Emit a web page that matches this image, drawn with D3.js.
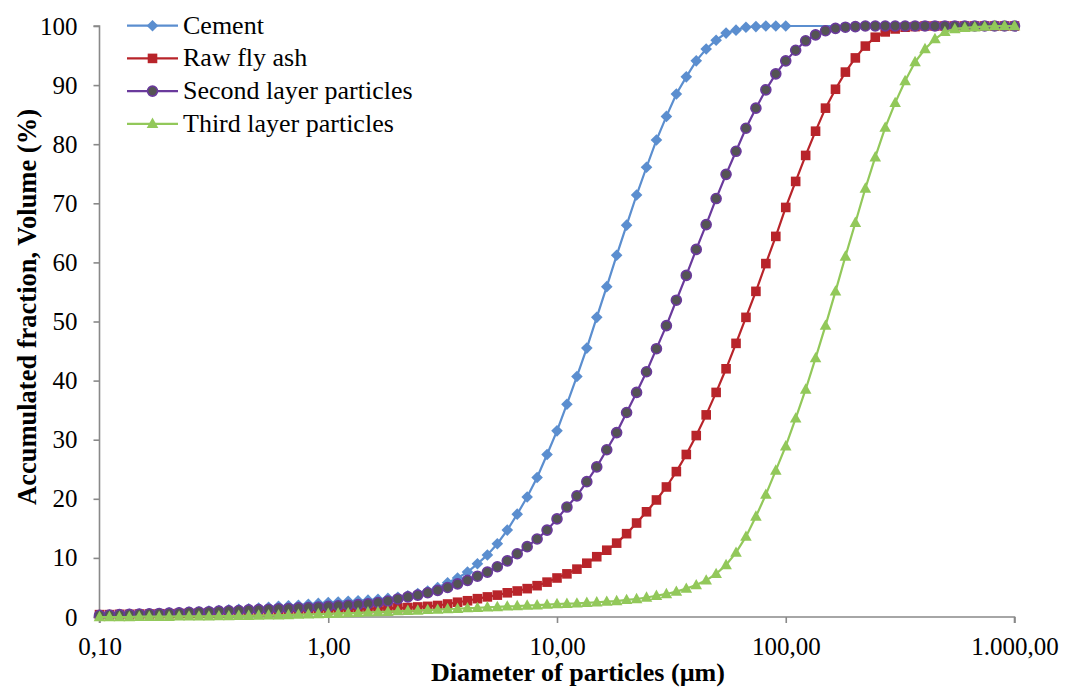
<!DOCTYPE html>
<html><head><meta charset="utf-8">
<script src="https://cdn.jsdelivr.net/npm/d3@7"></script>
<style>body{margin:0;background:#fff}svg{display:block}</style>
</head><body>
<svg id="c" width="1066" height="688"></svg>
<script>
// Particle diameters (µm), shared by all series
const sizes = [
 0.1000,0.1105,0.1222,0.1350,0.1492,0.1650,0.1823,0.2015,0.2228,0.2462,0.2721,0.3008,0.3325,0.3675,0.4062,0.4489,0.4962,0.5484,0.6062,0.6700,0.7406,0.8185,0.9047,
 1.000,1.105,1.222,1.350,1.492,1.650,1.823,2.015,2.228,2.462,2.721,3.008,3.325,3.675,4.062,4.489,4.962,5.484,6.062,6.700,7.406,8.185,9.047,
 10.00,11.05,12.22,13.50,14.92,16.50,18.23,20.15,22.28,24.62,27.21,30.08,33.25,36.75,40.62,44.89,49.62,54.84,60.62,67.00,74.06,81.85,90.47,
 100.0,110.5,122.2,135.0,149.2,165.0,182.3,201.5,222.8,246.2,272.1,300.8,332.5,367.5,406.2,448.9,496.2,548.4,606.2,670.0,740.6,818.5,904.7,
 1000.0];
const cement = [
 0.3,0.35,0.4,0.45,0.5,0.55,0.6,0.7,0.75,0.85,0.9,1.0,1.1,1.2,1.3,1.4,1.5,1.65,1.8,1.9,2.0,2.15,2.3,
 2.45,2.55,2.65,2.75,2.85,3.0,3.15,3.35,3.6,3.95,4.4,5.0,5.8,6.6,7.6,9.0,10.5,12.4,14.7,17.4,20.3,23.6,27.5,
 31.5,36.0,40.7,45.5,50.7,55.9,61.2,66.3,71.4,76.1,80.7,84.7,88.5,91.4,94.1,96.1,97.6,98.8,99.3,99.8,99.9,100,100,
 100,100,100,100,100,100,100,100,100,100,100,100,100,100,100,100,100,100,100,100,100,100,100,
 100];
const cementMarkerLimit = 100; // cement markers end at 100 µm
const rawFlyAsh = [
 0.4,0.4,0.45,0.45,0.5,0.5,0.55,0.55,0.6,0.6,0.65,0.7,0.7,0.75,0.8,0.85,0.9,0.9,0.95,1.0,1.05,1.1,1.15,
 1.2,1.25,1.3,1.35,1.4,1.45,1.5,1.55,1.6,1.7,1.8,1.95,2.2,2.5,2.75,3.1,3.4,3.7,4.1,4.4,4.8,5.3,5.9,
 6.6,7.3,8.1,9.1,10.2,11.3,12.5,14.1,15.9,17.8,19.8,22.0,24.6,27.5,30.7,34.2,38.0,42.0,46.3,50.7,55.1,59.8,64.4,
 69.3,73.7,78.1,82.2,86.1,89.3,92.2,94.6,96.6,98.1,99.0,99.5,99.8,99.9,100,100,100,100,100,100,100,100,100,
 100];
const secondLayer = [
 0.3,0.35,0.4,0.45,0.5,0.55,0.6,0.65,0.7,0.8,0.85,0.9,1.0,1.05,1.1,1.2,1.25,1.3,1.4,1.45,1.55,1.6,1.7,
 1.8,1.9,2.0,2.1,2.25,2.45,2.7,3.05,3.4,3.7,4.1,4.5,5.0,5.6,6.2,6.9,7.6,8.5,9.5,10.7,11.9,13.2,14.7,
 16.6,18.6,20.5,22.9,25.4,28.3,31.2,34.6,38.0,41.5,45.4,49.3,53.6,57.8,62.2,66.4,70.8,74.9,78.8,82.7,86.1,89.2,91.9,
 94.1,95.9,97.5,98.5,99.2,99.6,99.8,99.9,100,100,100,100,100,100,100,100,100,100,100,100,100,100,100,
 100];
const thirdLayer = [
 0.0,0.0,0.0,0.0,0.05,0.05,0.05,0.05,0.1,0.1,0.1,0.1,0.15,0.15,0.2,0.2,0.25,0.3,0.3,0.35,0.4,0.45,0.5,
 0.55,0.6,0.65,0.7,0.8,0.85,0.9,1.0,1.05,1.1,1.2,1.25,1.35,1.4,1.5,1.55,1.65,1.7,1.8,1.85,1.95,2.0,2.1,
 2.2,2.25,2.3,2.4,2.5,2.6,2.7,2.9,3.05,3.3,3.6,3.9,4.3,4.8,5.4,6.2,7.3,8.8,10.9,13.6,17.0,20.7,24.8,
 28.9,33.6,38.5,43.8,49.3,55.1,61.0,66.7,72.5,77.8,82.8,87.0,90.7,93.9,96.1,97.8,99.0,99.5,99.7,99.8,99.9,100,100,
 100];
const seriesNames = ["Cement","Raw fly ash","Second layer particles","Third layer particles"];
const xTicks = [0.1,1,10,100,1000];
const xTickLabels = ["0,10","1,00","10,00","100,00","1.000,00"];
const yTicks = [0,10,20,30,40,50,60,70,80,90,100];
const xTitle = "Diameter of particles (µm)";
const yTitle = "Accumulated fraction, Volume (%)";

const svg = d3.select("#c");
const L = 99.5, R = 1014.5, T = 26, B = 617;
const x = d3.scaleLog().domain([0.1,1000]).range([L,R]);
const y = d3.scaleLinear().domain([0,100]).range([B,T]);
const font = "'Liberation Serif','Times New Roman',serif";
const axisColor = "#898989";

// axes
const yAx = svg.append("g").attr("transform",`translate(${L},0)`)
  .call(d3.axisLeft(y).tickValues(yTicks).tickSize(6).tickPadding(16).tickFormat(d=>d));
const xAx = svg.append("g").attr("transform",`translate(0,${B})`)
  .call(d3.axisBottom(x).tickValues(xTicks).tickSize(6).tickPadding(14).tickFormat((d,i)=>xTickLabels[i]));
[yAx,xAx].forEach(g=>{
  g.select(".domain").attr("stroke",axisColor).attr("stroke-width",1.6);
  g.selectAll(".tick line").attr("stroke",axisColor).attr("stroke-width",1.6);
  g.selectAll("text").attr("fill","#000").style("font-family",font).style("font-size","25px");
});
xAx.select(".domain").attr("d",`M${L},6V0H${R}V6`);
yAx.select(".domain").attr("d",`M-6,${T}H0V${B}H-6`);

// titles
svg.append("text").attr("x",578).attr("y",681).attr("text-anchor","middle")
  .style("font-family",font).style("font-size","26px").style("font-weight","bold").text(xTitle);
svg.append("text").attr("transform",`translate(36,307) rotate(-90)`).attr("text-anchor","middle")
  .style("font-family",font).style("font-size","26.5px").style("font-weight","bold").text(yTitle);

// marker shapes
const shapes = {
  diamond: "M0,-5.8L5.8,0L0,5.8L-5.8,0Z",
  square: "M-4.8,-4.8H4.8V4.8H-4.8Z",
  circle: d3.symbol(d3.symbolCircle, Math.PI*5*5)(),
  triangle: "M0,-6.2L5.8,4.2L-5.8,4.2Z"
};
const styles = [
  {name:seriesNames[0], vals:cement, line:"#5B8ECF", fill:"#5B8ECF", stroke:"none", shape:"diamond", limit:cementMarkerLimit},
  {name:seriesNames[1], vals:rawFlyAsh, line:"#B8242A", fill:"#B8242A", stroke:"none", shape:"square", limit:Infinity},
  {name:seriesNames[2], vals:secondLayer, line:"#6A3A9C", fill:"#545454", stroke:"#6A3A9C", shape:"circle", limit:Infinity},
  {name:seriesNames[3], vals:thirdLayer, line:"#92C85A", fill:"#92C85A", stroke:"none", shape:"triangle", limit:Infinity}
];

const line = d3.line().x(d=>x(d[0])).y(d=>y(d[1]));
styles.forEach(s=>{
  const pts = sizes.map((d,i)=>[d,s.vals[i]]);
  const g = svg.append("g");
  g.append("path").attr("d",line(pts)).attr("fill","none").attr("stroke",s.line).attr("stroke-width",2.2);
  g.selectAll("path.m").data(pts.filter(p=>p[0]<=s.limit*1.0001)).join("path").attr("class","m")
    .attr("transform",p=>`translate(${x(p[0])},${y(p[1])})`).attr("d",shapes[s.shape])
    .attr("fill",s.fill).attr("stroke",s.stroke).attr("stroke-width",1.6);
});

// legend
const lg = svg.append("g");
styles.forEach((s,i)=>{
  const ly = 25.7 + i*32.7;
  lg.append("line").attr("x1",127).attr("x2",178).attr("y1",ly).attr("y2",ly).attr("stroke",s.line).attr("stroke-width",2.2);
  lg.append("path").attr("transform",`translate(152.5,${ly})`).attr("d",shapes[s.shape])
    .attr("fill",s.fill).attr("stroke",s.stroke).attr("stroke-width",1.6);
  lg.append("text").attr("x",183).attr("y",ly+8).style("font-family",font).style("font-size","26px").text(s.name);
});
</script>
</body></html>
